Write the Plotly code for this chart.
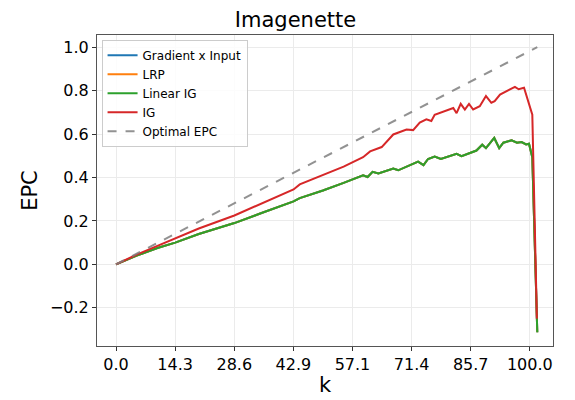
import plotly.graph_objects as go

k_ig = [0, 5, 10, 14.3, 20, 28.6, 35, 42.9, 44.4, 50, 55, 59.7, 61.4, 64.2, 67, 70.2, 71.8, 73.4, 75, 76.2, 77, 81.5, 82.3, 83.3, 84.3, 85.3, 86.3, 87.9, 89.4, 90.7, 91.5, 92.8, 96.4, 97.3, 98.6, 100.6, 101.7]
epc_ig = [0, 0.045, 0.085, 0.12, 0.165, 0.225, 0.28, 0.345, 0.368, 0.41, 0.45, 0.493, 0.52, 0.54, 0.598, 0.621, 0.618, 0.653, 0.668, 0.66, 0.689, 0.72, 0.696, 0.739, 0.713, 0.739, 0.713, 0.728, 0.775, 0.744, 0.751, 0.782, 0.817, 0.806, 0.813, 0.689, -0.25]

k_lin = [0, 5, 10, 14.3, 20, 28.6, 35, 42.9, 44.4, 50, 55, 59.7, 60.8, 62, 63.4, 67, 68.2, 73, 74.3, 75.4, 77, 78.5, 82.3, 83.5, 87.1, 88.5, 89.4, 91.4, 92.6, 93.6, 95.6, 96.9, 98, 99.1, 99.8, 100.6, 101.8]
epc_lin = [0, 0.04, 0.075, 0.1, 0.14, 0.19, 0.235, 0.29, 0.305, 0.34, 0.375, 0.41, 0.402, 0.426, 0.418, 0.441, 0.433, 0.473, 0.457, 0.485, 0.496, 0.485, 0.509, 0.498, 0.524, 0.551, 0.535, 0.582, 0.535, 0.56, 0.571, 0.56, 0.563, 0.552, 0.555, 0.493, -0.313]

k_opt = [0, 101.8]
epc_opt = [0, 1.0]

tick_vals = [0, 14.2857, 28.5714, 42.8571, 57.1429, 71.4286, 85.7143, 100]
tick_text = ["0.0", "14.3", "28.6", "42.9", "57.1", "71.4", "85.7", "100.0"]

fig = go.Figure()
fig.add_trace(go.Scatter(x=k_lin, y=epc_lin, mode="lines", name="Gradient x Input", line=dict(color="#1f77b4", width=2)))
fig.add_trace(go.Scatter(x=k_lin, y=epc_lin, mode="lines", name="LRP", line=dict(color="#ff7f0e", width=2)))
fig.add_trace(go.Scatter(x=k_lin, y=epc_lin, mode="lines", name="Linear IG", line=dict(color="#2ca02c", width=2)))
fig.add_trace(go.Scatter(x=k_ig, y=epc_ig, mode="lines", name="IG", line=dict(color="#d62728", width=2)))
fig.add_trace(go.Scatter(x=k_opt, y=epc_opt, mode="lines", name="Optimal EPC", line=dict(color="#7f7f7f", width=2, dash="dash"), opacity=0.85))

axis_common = dict(showgrid=True, gridcolor="#ebebeb", zeroline=False, showline=True, linecolor="#555", mirror=True,
                   ticks="outside", ticklen=4, tickcolor="#333", tickfont=dict(size=16, color="black"))
fig.update_layout(
    width=575, height=400, paper_bgcolor="white", plot_bgcolor="white",
    font=dict(family="DejaVu Sans", color="black"),
    title=dict(text="Imagenette", x=0.5, xanchor="center", y=0.99, yanchor="top", font=dict(size=21)),
    margin=dict(l=89, r=30, t=27, b=62),
    xaxis=dict(range=[-4.6, 105.6], tickvals=tick_vals, ticktext=tick_text,
               title=dict(text="k", font=dict(size=21), standoff=4), **axis_common),
    yaxis=dict(range=[-0.376, 1.056], tickvals=[-0.2, 0, 0.2, 0.4, 0.6, 0.8, 1.0], tickformat=".1f",
               title=dict(text="EPC", font=dict(size=21), standoff=6), **axis_common),
    legend=dict(x=0.01, y=0.985, xanchor="left", yanchor="top", bgcolor="rgba(255,255,255,0.85)",
                bordercolor="#ccc", borderwidth=1, font=dict(size=12), tracegroupgap=0),
    showlegend=True,
)
fig.write_html("out.html")
